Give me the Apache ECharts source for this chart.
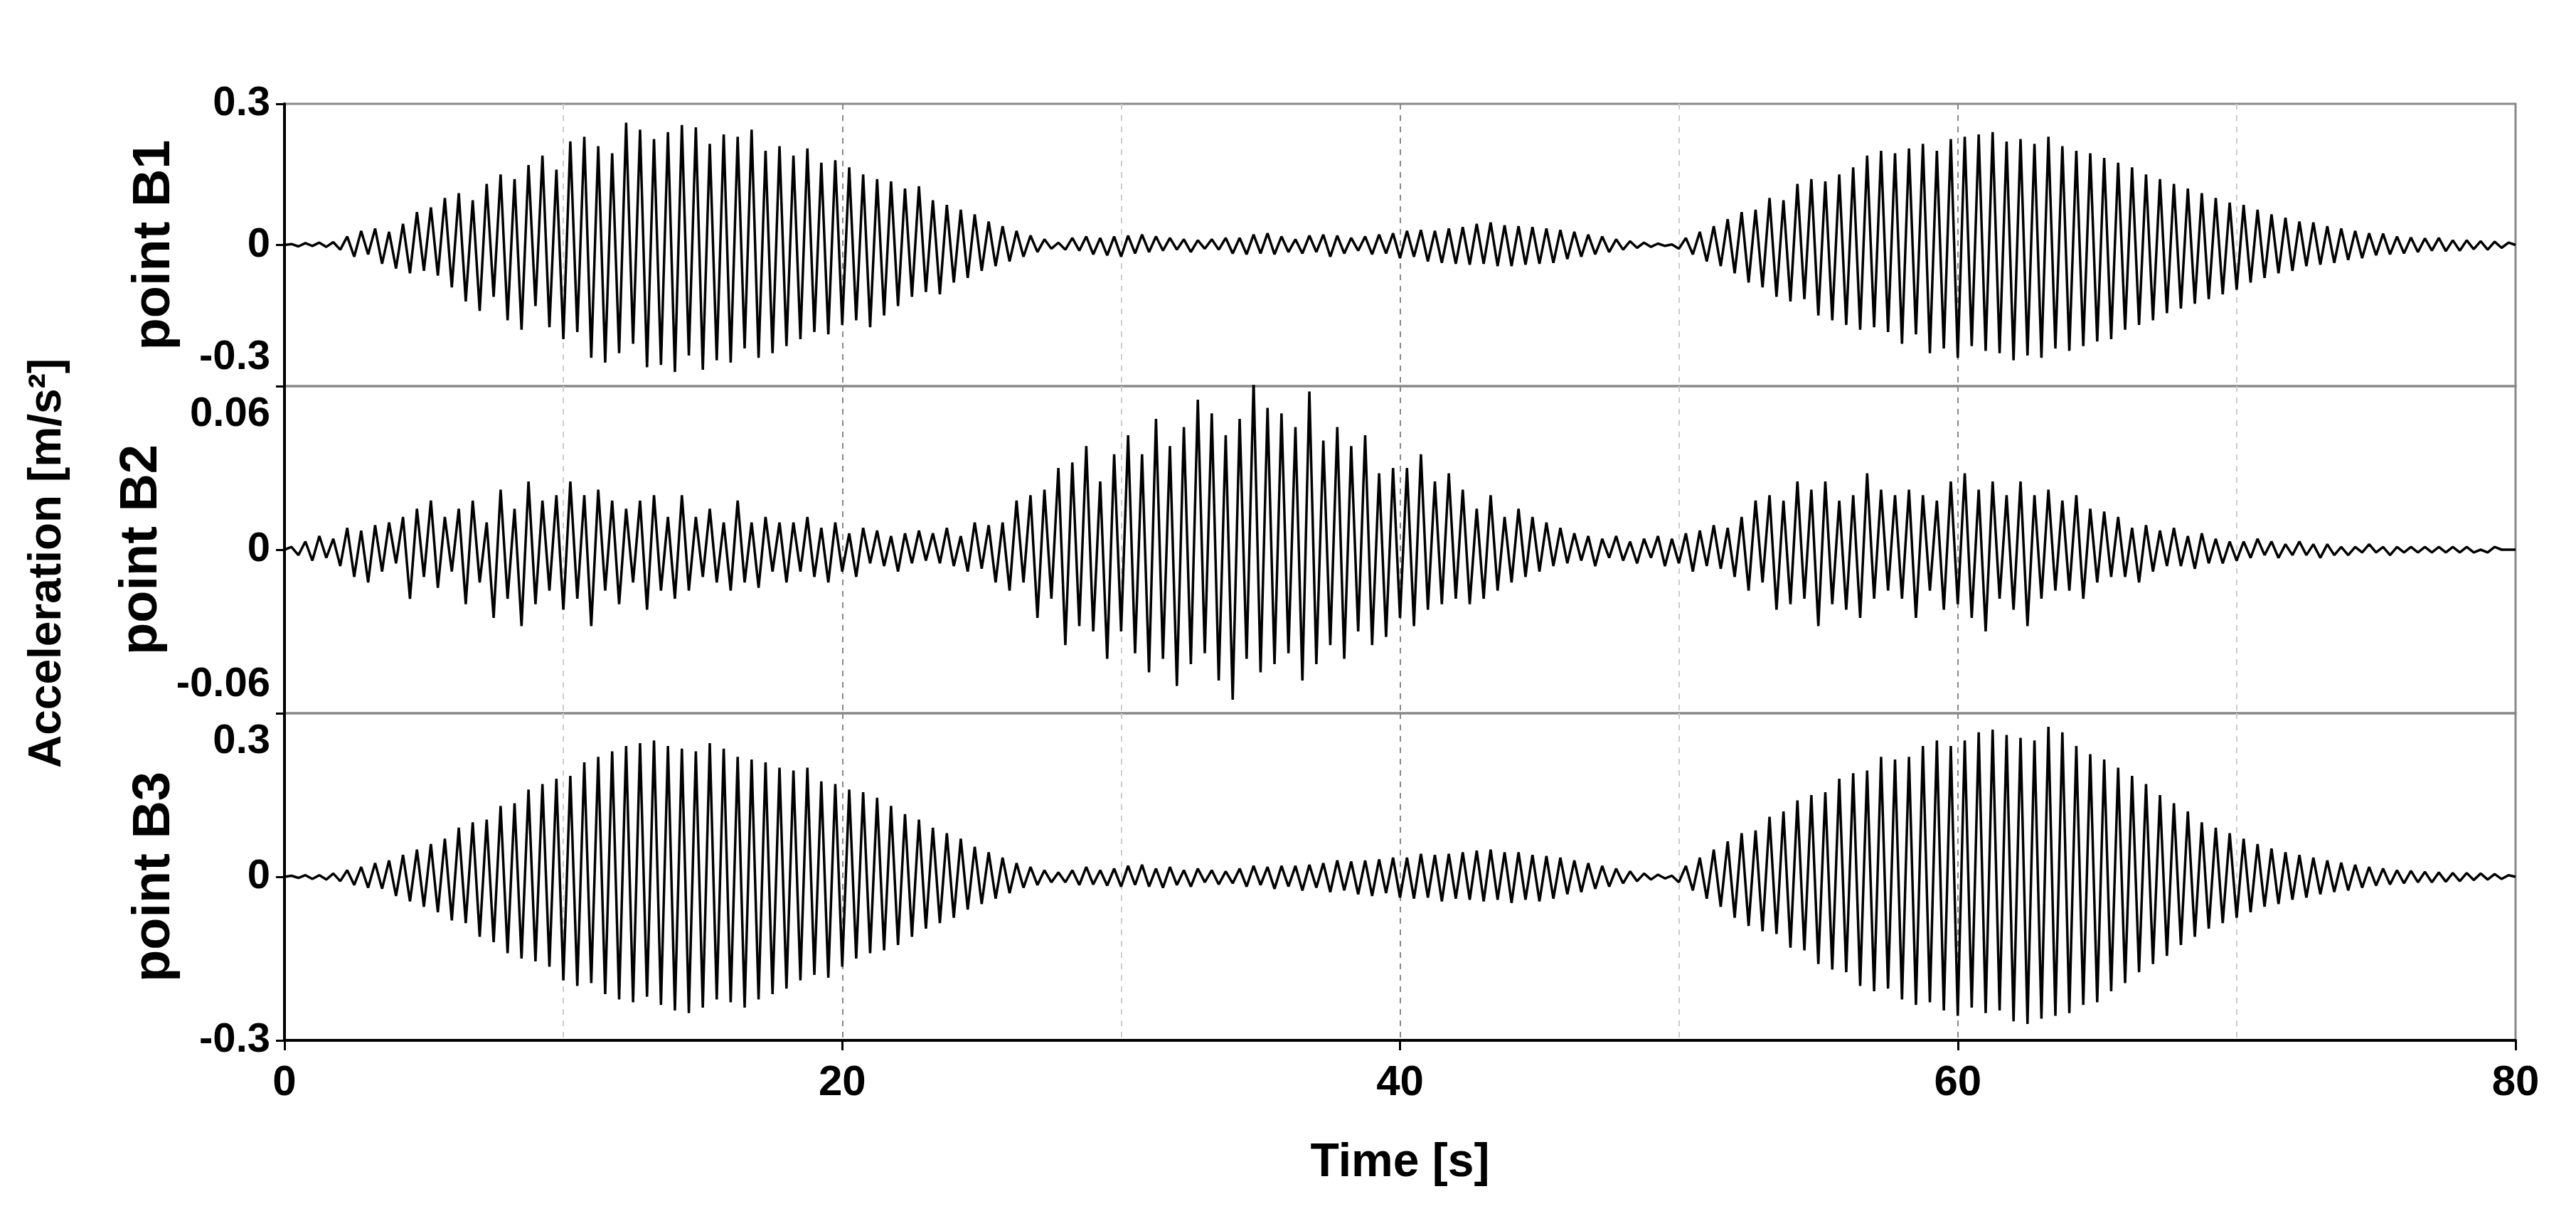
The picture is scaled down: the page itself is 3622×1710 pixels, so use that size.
<!DOCTYPE html>
<html><head><meta charset="utf-8">
<script src="https://cdn.jsdelivr.net/npm/echarts@6/dist/echarts.min.js"></script>
<style>html,body{margin:0;background:#fff}#c{width:3622px;height:1710px}</style></head>
<body><div id="c"></div>
<script>
// sample step (s); values in mm/s^2 (converted to m/s^2 below)
const dt = 0.25;
const xTicks = [0, 20, 40, 60, 80];
const panelNames = ['point B1', 'point B2', 'point B3'];
const b1 = [
0,2,-3,4,-2,5,-4,6,
-10,18,-25,30,-20,35,-40,28,
-50,45,-60,70,-55,80,-65,100,
-90,110,-120,95,-140,130,-110,150,
-160,140,-180,170,-130,190,-175,160,
-200,220,-185,230,-240,210,-250,195,
-230,260,-210,245,-260,225,-255,240,
-270,255,-235,250,-265,215,-245,235,
-250,230,-220,245,-240,200,-230,210,
-215,190,-200,205,-185,175,-190,180,
-170,165,-160,150,-175,140,-150,135,
-130,120,-110,125,-100,95,-105,85,
-80,75,-70,65,-55,50,-45,40,
-35,30,-25,20,-15,12,-8,5,
-10,15,-12,18,-20,15,-22,18,
-25,20,-18,22,-15,18,-12,15,
-10,12,-15,10,-8,12,-10,15,
-18,15,-20,22,-18,25,-20,18,
-15,12,-18,20,-15,22,-25,20,
-18,15,-12,18,-20,22,-18,25,
-28,30,-25,32,-35,30,-38,35,
-40,38,-42,45,-40,48,-45,42,
-45,40,-42,38,-40,35,-38,32,
-30,28,-25,22,-20,18,-15,12,
-10,8,-6,5,-4,3,-2,1,
-8,15,-20,28,-35,40,-45,55,
-60,70,-80,75,-90,100,-110,95,
-120,130,-115,140,-150,135,-160,150,
-170,165,-180,190,-175,200,-185,195,
-210,205,-190,215,-230,200,-220,225,
-240,230,-215,235,-225,240,-230,220,
-245,225,-235,215,-240,230,-220,210,
-225,200,-215,195,-205,185,-200,175,
-180,165,-170,150,-160,140,-145,130,
-135,120,-125,110,-115,100,-105,90,
-95,85,-80,75,-70,65,-60,58,
-55,50,-45,48,-42,40,-38,35,
-32,30,-28,25,-22,24,-20,18,
-18,16,-15,14,-12,15,-13,10,
-12,10,-9,8,-10,7,-6,5,0];
const b2 = [
0,1,-2,3,-4,5,-3,4,
-6,8,-10,7,-12,9,-8,10,
-5,12,-18,15,-10,18,-14,12,
-8,15,-20,18,-12,10,-25,22,
-18,15,-28,25,-20,18,-15,20,
-22,25,-18,20,-28,22,-15,18,
-20,15,-12,18,-22,20,-15,12,
-18,20,-15,12,-10,15,-12,10,
-15,18,-12,10,-14,12,-8,10,
-12,10,-8,12,-10,8,-12,10,
-8,6,-10,8,-5,7,-6,5,
-8,6,-5,7,-4,6,-5,8,
-6,5,-8,10,-7,9,-12,10,
-15,18,-12,20,-25,22,-18,30,
-35,32,-28,38,-30,25,-40,35,
-30,42,-38,35,-45,48,-40,38,
-50,45,-42,55,-38,50,-48,42,
-55,48,-40,62,-45,52,-42,50,
-38,45,-48,58,-42,40,-35,45,
-40,38,-30,42,-35,28,-32,30,
-25,30,-28,35,-22,25,-20,28,
-18,22,-20,15,-18,20,-15,12,
-12,15,-10,12,-8,10,-6,8,
-5,6,-4,5,-6,4,-3,5,
-4,3,-5,4,-3,5,-6,4,
-5,6,-8,7,-6,9,-7,8,
-10,12,-15,18,-12,20,-22,18,
-20,25,-18,22,-28,25,-20,18,
-22,20,-25,28,-18,22,-15,20,
-18,22,-25,20,-15,18,-22,25,
-20,28,-25,22,-30,25,-18,20,
-22,25,-28,20,-18,22,-15,18,
-15,20,-18,15,-12,14,-10,12,
-10,8,-12,9,-8,7,-6,8,
-6,5,-7,6,-5,4,-5,3,
-4,3,-3,4,-2,3,-3,2,
-2,3,-2,2,-3,2,-2,1,
-2,1,-1,2,-1,1,-2,1,
-1,1,-1,1,-1,1,-1,1,
-1,1,-1,0,-1,1,0,0,0];
const b3 = [
0,2,-2,3,-4,3,-5,6,
-8,12,-15,18,-20,25,-22,30,
-35,40,-45,50,-55,60,-65,70,
-80,90,-85,100,-110,105,-120,130,
-140,135,-150,160,-155,170,-165,180,
-190,185,-200,210,-195,220,-215,230,
-225,240,-230,245,-220,250,-235,240,
-245,235,-250,230,-240,245,-225,235,
-230,220,-240,215,-225,210,-215,200,
-205,195,-190,200,-180,175,-185,170,
-165,160,-150,155,-140,145,-135,130,
-125,115,-110,105,-95,90,-85,80,
-75,70,-60,55,-50,45,-40,35,
-30,25,-20,18,-15,12,-10,8,
-10,12,-15,18,-14,12,-16,15,
-18,20,-15,22,-18,15,-20,18,
-15,12,-18,15,-10,12,-14,10,
-12,15,-18,20,-15,18,-22,20,
-18,20,-25,22,-20,25,-28,30,
-25,28,-32,30,-35,32,-30,35,
-38,35,-40,42,-38,40,-45,42,
-40,45,-42,48,-45,50,-42,45,
-48,45,-42,40,-45,38,-40,35,
-32,30,-28,25,-22,20,-18,15,
-12,10,-8,6,-5,4,-3,2,
-10,20,-25,35,-40,50,-55,65,
-75,80,-90,85,-100,110,-105,120,
-130,140,-135,150,-160,155,-170,180,
-175,190,-200,195,-210,220,-205,215,
-225,220,-235,240,-230,250,-245,240,
-255,250,-240,265,-250,270,-245,260,
-265,255,-270,250,-260,275,-255,265,
-250,240,-235,225,-230,215,-210,200,
-195,185,-175,170,-160,150,-145,135,
-125,120,-110,100,-95,90,-85,80,
-75,70,-65,60,-55,52,-50,45,
-42,40,-38,35,-32,30,-28,26,
-25,22,-20,18,-16,15,-14,12,
-12,11,-10,9,-10,8,-9,7,
-8,7,-6,6,-5,5,-4,3,0];
const yRanges = [0.3, 0.06, 0.3];

const F = 'Liberation Sans, Arial, sans-serif';
const series = [b1, b2, b3];
const grids = [
  {left: 400, right: 85, top: 146, height: 397},
  {left: 400, right: 85, top: 543, height: 460},
  {left: 400, right: 85, top: 1003, height: 460}
].map(g => Object.assign(g, {show: true, borderColor: '#888', borderWidth: 3, backgroundColor: 'transparent'}));

const nudge = [{top: false, bottom: true}, {top: true, bottom: true}, {top: true, bottom: false}];
const labStyle = {fontFamily: F, fontWeight: 'bold', fontSize: 58, color: '#000'};

const xAxis = grids.map((g, i) => ({
  type: 'value', gridIndex: i, min: xTicks[0], max: xTicks[xTicks.length - 1], interval: 20,
  axisLine: {show: i === 2, onZero: false, lineStyle: {color: '#000', width: 4}},
  axisTick: {show: i === 2, length: 14, lineStyle: {color: '#000', width: 3}},
  axisLabel: {show: i === 2, fontFamily: F, fontWeight: 'bold', fontSize: 60, color: '#000', margin: 30},
  splitLine: {show: true, lineStyle: {type: [8, 8], color: '#888', width: 2}},
  minorTick: {show: false, splitNumber: 2},
  minorSplitLine: {show: true, lineStyle: {type: [8, 8], color: '#ccc', width: 2}},
  name: i === 2 ? 'Time [s]' : '', nameLocation: 'middle', nameGap: 140,
  nameTextStyle: {fontFamily: F, fontWeight: 'bold', fontSize: 66, color: '#000'}
}));
const yAxis = grids.map((g, i) => ({
  type: 'value', gridIndex: i, min: -yRanges[i], max: yRanges[i], interval: yRanges[i],
  axisLine: {show: true, onZero: false, lineStyle: {color: '#000', width: 4}},
  axisTick: {show: true, length: 12, lineStyle: {color: '#000', width: 3}},
  axisLabel: {margin: 20,
    formatter: v => {
      if (v === 0) return '{n|0}';
      if (v > 0) return nudge[i].top ? '{d|' + v + '}' : '{n|' + v + '}';
      return nudge[i].bottom ? '{u|' + v + '}' : '{n|' + v + '}';
    },
    rich: {
      n: labStyle,
      u: Object.assign({padding: [0, 0, 80, 0]}, labStyle),
      d: Object.assign({padding: [80, 0, 0, 0]}, labStyle)
    }},
  splitLine: {show: false},
  name: panelNames[i], nameLocation: 'middle', nameGap: 145, nameRotate: 90,
  nameTextStyle: {fontFamily: F, fontWeight: 'bold', fontSize: 74, color: '#000'}
}));
const chart = echarts.init(document.getElementById('c'));
chart.setOption({
  animation: false, backgroundColor: '#fff',
  grid: grids, xAxis, yAxis,
  series: series.map((d, i) => ({
    type: 'line', xAxisIndex: i, yAxisIndex: i, symbol: 'none', clip: true,
    lineStyle: {color: '#000', width: 3.5},
    data: d.map((v, k) => [k * dt, v / 1000])
  })),
  graphic: [{type: 'text', rotation: Math.PI / 2, position: [35, 1080],
    style: {text: 'Acceleration [m/s²]', font: 'bold 64px ' + F, fill: '#000'}}]
});
</script></body></html>
